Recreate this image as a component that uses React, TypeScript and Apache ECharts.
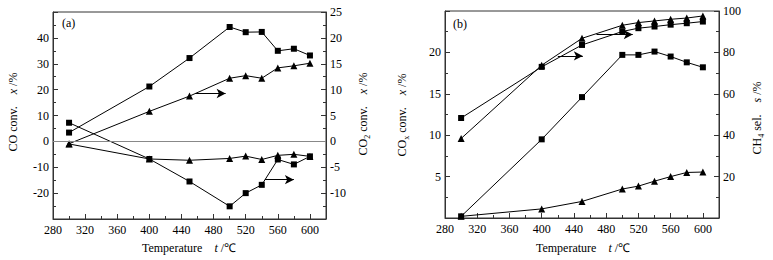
import { useEffect, useRef } from "react";
import * as echarts from "echarts";

// ---------- data ----------
const temps = [300, 400, 450, 500, 520, 540, 560, 580, 600];

// panel (a)
const aCoConvSquares = [3.4, 21.2, 32.2, 44.2, 42.2, 42.3, 35.0, 35.8, 33.2]; // left axis
const aCoConvTriangles = [-1.0, -6.8, -7.3, -6.6, -5.7, -7.0, -5.4, -5.0, -5.8]; // left axis
const aCo2ConvTriangles = [-0.45, 5.8, 8.75, 12.2, 12.7, 12.2, 14.2, 14.6, 15.1]; // right axis
const aCo2ConvSquares = [3.6, -3.4, -7.75, -12.55, -10.0, -8.4, -3.5, -4.45, -2.9]; // right axis

// panel (b)
const bCoxConvSquares = [0.2, 9.5, 14.6, 19.7, 19.7, 20.1, 19.5, 18.8, 18.2]; // left axis
const bCoxConvTriangles = [0.2, 1.1, 2.0, 3.5, 3.85, 4.45, 5.0, 5.5, 5.55]; // left axis
const bCh4SelSquares = [48.3, 73.0, 83.6, 90.1, 91.7, 92.5, 93.4, 94.1, 94.9]; // right axis
const bCh4SelTriangles = [38.4, 73.8, 86.8, 93.1, 94.4, 95.2, 96.0, 96.6, 97.6]; // right axis

// arrows: [x1, y1, x2, y2] in data units of the axis they point to
const aArrowUpper = [457, 9.25, 495, 9.25];
const aArrowLower = [544, -7.4, 580, -7.4];
const bArrowLower = [420, 78.3, 451, 78.3];
const bArrowUpper = [468, 88.6, 513, 88.6];

// axis extents / ticks
const xMin = 280, xMax = 620, xInterval = 40;
const aLeftMin = -30, aLeftMax = 50, aLeftInterval = 10;
const aRightMin = -15, aRightMax = 25, aRightInterval = 5;
const bLeftMin = 0, bLeftMax = 25, bLeftInterval = 5;
const bRightMin = 0, bRightMax = 100, bRightInterval = 20;

const FONT = "'Liberation Serif', 'Times New Roman', serif";

const zip = (xs: number[], ys: number[]) => xs.map((x, i) => [x, ys[i]]);

function App() {
  const ref = useRef<HTMLDivElement>(null);

  useEffect(() => {
    document.body.style.margin = "0";
    if (!ref.current) return;
    const chart = echarts.init(ref.current, undefined, { renderer: "svg" });

    const axisLineStyle = { color: "#333", width: 1 };
    const labelStyle = { fontFamily: FONT, fontSize: 12, color: "#000" };

    const xAxis = (gridIndex: number) => ({
      type: "value",
      gridIndex,
      min: xMin,
      max: xMax,
      interval: xInterval,
      axisLine: { show: true, onZero: false, lineStyle: axisLineStyle },
      axisTick: { show: true, inside: true, length: 5, lineStyle: axisLineStyle },
      minorTick: { show: true, splitNumber: 2, length: 3, lineStyle: axisLineStyle },
      splitLine: { show: false },
      axisLabel: {
        ...labelStyle,
        margin: 5,
        showMaxLabel: false,
        formatter: (v: number) => (v % 40 === 0 && v <= 600 ? String(v) : ""),
      },
    });

    const yAxis = (
      gridIndex: number,
      position: "left" | "right",
      min: number,
      max: number,
      interval: number,
      hide: (v: number) => boolean
    ) => ({
      type: "value",
      gridIndex,
      position,
      min,
      max,
      interval,
      axisLine: { show: true, onZero: false, lineStyle: axisLineStyle },
      axisTick: { show: true, inside: true, length: 5, lineStyle: axisLineStyle },
      minorTick: { show: true, splitNumber: 2, length: 3, lineStyle: axisLineStyle },
      splitLine: { show: false },
      axisLabel: {
        ...labelStyle,
        margin: 4,
        formatter: (v: number) => (hide(v) ? "" : String(v)),
      },
    });

    const lineSeries = (
      name: string,
      xAxisIndex: number,
      yAxisIndex: number,
      ys: number[],
      symbol: "rect" | "triangle",
      extra: any = {}
    ) => ({
      name,
      type: "line",
      xAxisIndex,
      yAxisIndex,
      data: zip(temps, ys),
      symbol,
      symbolSize: symbol === "rect" ? 6 : 7,
      showAllSymbol: true,
      itemStyle: { color: "#000" },
      lineStyle: { color: "#000", width: 1 },
      ...extra,
    });

    const arrow = (c: number[]) => ({
      silent: true,
      symbol: ["none", "arrow"],
      symbolSize: [7, 9],
      label: { show: false },
      lineStyle: { color: "#000", type: "solid", width: 1 },
      data: [[{ coord: [c[0], c[1]] }, { coord: [c[2], c[3]] }]],
    });

    const richBase = { fontFamily: FONT, fontSize: 12, fill: "#000", lineHeight: 16, verticalAlign: "middle" };
    const rich = {
      n: { ...richBase },
      i: { ...richBase, fontStyle: "italic" },
      s: { fontFamily: FONT, fontSize: 8, fill: "#000", lineHeight: 16, verticalAlign: "bottom" },
    };

    const title = (x: number, y: number, text: string, rotated: boolean) => ({
      type: "text",
      x,
      y,
      rotation: rotated ? Math.PI / 2 : 0,
      style: { text, rich, align: "center", verticalAlign: "middle", fill: "#000" },
      silent: true,
    });

    const option: any = {
      animation: false,
      backgroundColor: "#fff",
      grid: [
        { left: 53, right: 447, top: 12, bottom: 41, show: true, borderColor: "#333", borderWidth: 1 },
        { left: 445, right: 54, top: 11, bottom: 42, show: true, borderColor: "#333", borderWidth: 1 },
      ],
      xAxis: [xAxis(0), xAxis(1)],
      yAxis: [
        yAxis(0, "left", aLeftMin, aLeftMax, aLeftInterval, (v) => v < -25 || v > 45),
        yAxis(0, "right", aRightMin, aRightMax, aRightInterval, (v) => v < -12),
        yAxis(1, "left", bLeftMin, bLeftMax, bLeftInterval, (v) => v < 1 || v > 22),
        yAxis(1, "right", bRightMin, bRightMax, bRightInterval, (v) => v < 1),
      ],
      series: [
        lineSeries("CO conv. (a) squares", 0, 0, aCoConvSquares, "rect", {
          markLine: {
            silent: true,
            symbol: "none",
            label: { show: false },
            lineStyle: { color: "#888", type: "solid", width: 1 },
            data: [{ yAxis: 0 }],
          },
        }),
        lineSeries("CO conv. (a) triangles", 0, 0, aCoConvTriangles, "triangle"),
        lineSeries("CO2 conv. (a) triangles", 0, 1, aCo2ConvTriangles, "triangle", { markLine: arrow(aArrowUpper) }),
        lineSeries("CO2 conv. (a) squares", 0, 1, aCo2ConvSquares, "rect", { markLine: arrow(aArrowLower) }),
        lineSeries("COx conv. (b) squares", 1, 2, bCoxConvSquares, "rect"),
        lineSeries("COx conv. (b) triangles", 1, 2, bCoxConvTriangles, "triangle"),
        lineSeries("CH4 sel. (b) squares", 1, 3, bCh4SelSquares, "rect", { markLine: arrow(bArrowLower) }),
        lineSeries("CH4 sel. (b) triangles", 1, 3, bCh4SelTriangles, "triangle", { markLine: arrow(bArrowUpper) }),
      ],
      graphic: [
        { type: "text", x: 62, y: 23, silent: true, style: { text: "(a)", fontFamily: FONT, fontSize: 12, fill: "#000", align: "left", verticalAlign: "middle" } },
        { type: "text", x: 453, y: 24, silent: true, style: { text: "(b)", fontFamily: FONT, fontSize: 12, fill: "#000", align: "left", verticalAlign: "middle" } },
        title(189, 248, "{n|Temperature    }{i|t}{n| /℃}", false),
        title(583, 248, "{n|Temperature    }{i|t}{n| /℃}", false),
        title(13, 112, "{n|CO conv.    }{i|x}{n| /%}", true),
        title(363, 114, "{n|CO}{s|2}{n| conv.    }{i|x}{n| /%}", true),
        title(402, 115, "{n|CO}{s|x}{n| conv.    }{i|x}{n| /%}", true),
        title(757, 118, "{n|CH}{s|4}{n| sel.    }{i|s}{n| /%}", true),
      ],
    };

    chart.setOption(option);
    return () => chart.dispose();
  }, []);

  return <div ref={ref} style={{ width: 773, height: 260 }} />;
}

export default App;
